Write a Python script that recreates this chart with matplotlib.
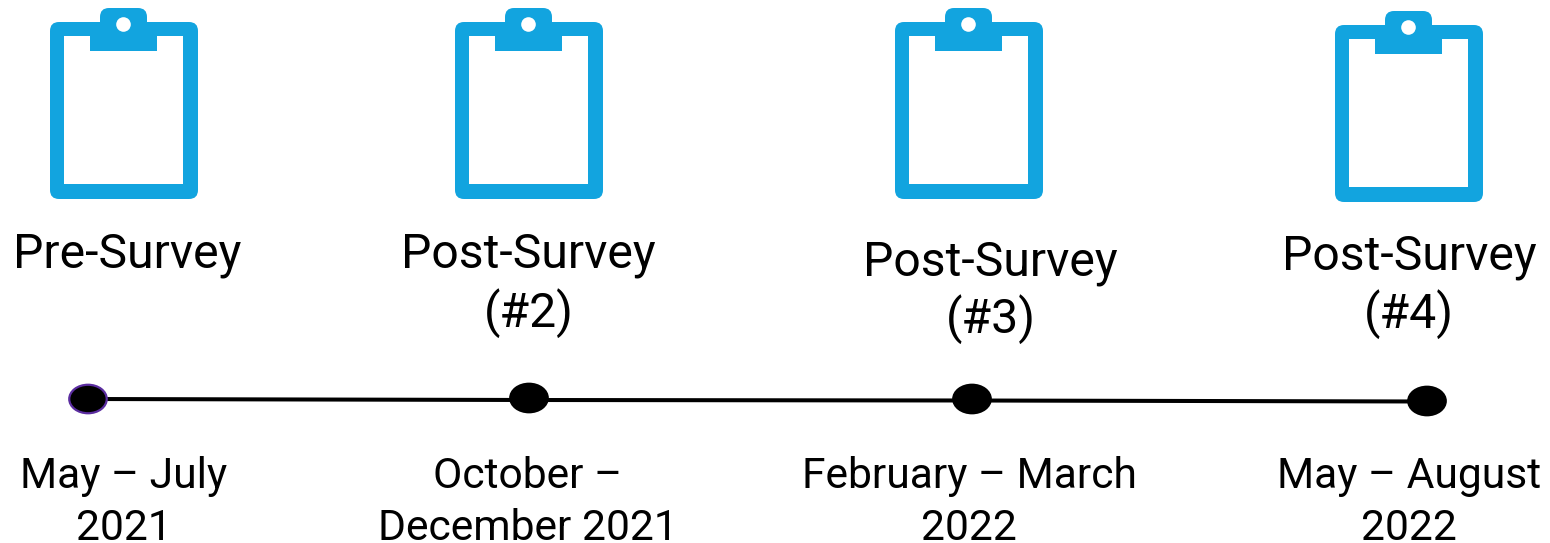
import matplotlib
matplotlib.use("Agg")
import matplotlib.pyplot as plt
from matplotlib.patches import FancyBboxPatch, Rectangle, Circle, Ellipse

plt.rcParams['font.family'] = ['Roboto', 'DejaVu Sans']

BLUE = '#12A4DF'
survey_titles = ['Pre-Survey', 'Post-Survey\n(#2)', 'Post-Survey\n(#3)', 'Post-Survey\n(#4)']
survey_dates = ['May – July\n2021', 'October –\nDecember 2021', 'February – March\n2022', 'May – August\n2022']
board_left = [50, 455, 895, 1335]
board_top = [22, 22, 22, 25]
title_x = [127.5, 528.5, 990.5, 1409]
title_base = [268, 267, 275, 269]
title_line2 = [None, 327, 333, 328]
node_x = [88, 529, 972, 1427]
node_y = [399, 398, 399, 401]
line_y = [399, 400, 400.5, 401.5]
date_x = [123.5, 528, 969, 1409]
date_base = [488, 488, 488, 488]
date_line2 = [540, 540, 540, 540]

fig = plt.figure(figsize=(15.5, 5.43), dpi=100)
ax = fig.add_axes([0, 0, 1, 1])
ax.set_xlim(0, 1550)
ax.set_ylim(543, 0)
ax.axis('off')

def round_rect(x0, y0, x1, y1, r, **kw):
    ax.add_patch(FancyBboxPatch((x0 + r, y0 + r), x1 - x0 - 2 * r, y1 - y0 - 2 * r,
                                boxstyle=f'round,pad={r},rounding_size={r}',
                                linewidth=0, **kw))

for left, top in zip(board_left, board_top):
    round_rect(left, top, left + 148, top + 177, 9, facecolor=BLUE, zorder=1)
    ax.add_patch(Rectangle((left + 14, top + 14), 119, 148, facecolor='white', linewidth=0, zorder=2))
    ax.add_patch(Rectangle((left + 40, top + 14), 67, 15, facecolor=BLUE, linewidth=0, zorder=3))
    round_rect(left + 50, top - 14, left + 97, top + 12, 9, facecolor=BLUE, zorder=3)
    ax.add_patch(Circle((left + 73.5, top + 2.5), 7.3, facecolor='white', linewidth=0, zorder=4))

ax.plot(node_x, line_y, color='black', linewidth=2.9, solid_capstyle='butt', zorder=5)
for i, (x, y) in enumerate(zip(node_x, node_y)):
    ax.add_patch(Ellipse((x, y), 37.5, 28.5, facecolor='black',
                         edgecolor='#5B2DA0' if i == 0 else 'black', linewidth=1.6, zorder=6))

fs_title = 34.7
fs_date = 30.7
for i, t in enumerate(survey_titles):
    lines = t.split('\n')
    ax.text(title_x[i], title_base[i], lines[0], ha='center', va='baseline', fontsize=fs_title, color='black')
    if len(lines) > 1:
        ax.text(title_x[i], title_line2[i], lines[1], ha='center', va='baseline', fontsize=fs_title, color='black')
for i, t in enumerate(survey_dates):
    lines = t.split('\n')
    ax.text(date_x[i], date_base[i], lines[0], ha='center', va='baseline', fontsize=fs_date, color='black')
    ax.text(date_x[i], date_line2[i], lines[1], ha='center', va='baseline', fontsize=fs_date, color='black')

fig.savefig('out.png', dpi=100)
